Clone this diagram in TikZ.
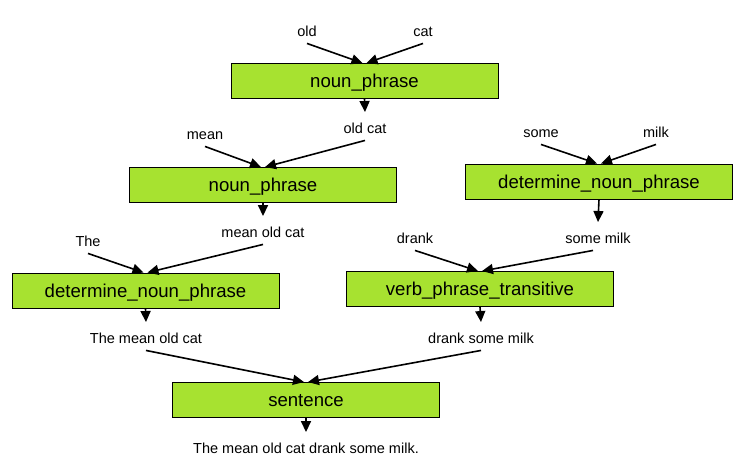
\documentclass[tikz,border=0pt]{standalone}
\usepackage{fontspec}
\setmainfont{Liberation Sans}
\usetikzlibrary{arrows.meta}
\definecolor{boxgreen}{RGB}{167,226,48}
\begin{document}
\begin{tikzpicture}[x=1pt,y=-1pt,
  box/.style={draw=black, line width=0.9pt, fill=boxgreen, minimum width=267pt, minimum height=35pt, inner sep=0pt, text height=13.5pt, text depth=0pt, font=\fontsize{18.6}{21}\selectfont},
  lbl/.style={inner sep=0pt, text height=10.5pt, text depth=0pt, font=\fontsize{14.5}{17}\selectfont},
  arr/.style={-{Triangle[length=11pt,width=10pt]}, line width=1.6pt}]
\useasboundingbox (0,0) rectangle (750,465);

% boxes
\node[box] (b1) at (364.5,81) {noun\_phrase};
\node[box] (b2) at (263,185) {noun\_phrase};
\node[box] (b3) at (599,181.5) {determine\_noun\_phrase};
\node[box] (b4) at (145.5,290.5) {determine\_noun\_phrase};
\node[box] (b5) at (480,289) {verb\_phrase\_transitive};
\node[box] (b6) at (306,400) {sentence};

% labels
\node[lbl] (old) at (307,31) {old};
\node[lbl] (cat) at (423,31) {cat};
\node[lbl] (oc) at (365,128) {old cat};
\node[lbl] (mean) at (205,134) {mean};
\node[lbl] (moc) at (263,232) {mean old cat};
\node[lbl] (the) at (88,241) {The};
\node[lbl] (some) at (541,132) {some};
\node[lbl] (milk) at (656,132) {milk};
\node[lbl] (sm) at (598,238) {some milk};
\node[lbl] (drank) at (415,238) {drank};
\node[lbl] (tmoc) at (146,338) {The mean old cat};
\node[lbl] (dsm) at (481,338) {drank some milk};
\node[lbl] (final) at (306,448) {The mean old cat drank some milk.};

% connectors
\draw[arr] ([yshift=-7pt]old.south) -- ([xshift=-2pt]b1.north);
\draw[arr] ([yshift=-7pt]cat.south) -- ([xshift=2pt]b1.north);
\draw[arr] (b1.south) -- ([yshift=10.5pt]oc.north);

\draw[arr] ([yshift=-7pt]mean.south) -- ([xshift=-2pt]b2.north);
\draw[arr] ([yshift=-7pt]oc.south) -- ([xshift=2pt]b2.north);
\draw[arr] (b2.south) -- ([yshift=10.5pt]moc.north);

\draw[arr] ([yshift=-7pt]some.south) -- ([xshift=-2pt]b3.north);
\draw[arr] ([yshift=-7pt]milk.south) -- ([xshift=2pt]b3.north);
\draw[arr] (b3.south) -- ([yshift=10.5pt]sm.north);

\draw[arr] ([yshift=-7pt]the.south) -- ([xshift=-2pt]b4.north);
\draw[arr] ([yshift=-7pt]moc.south) -- ([xshift=2pt]b4.north);
\draw[arr] (b4.south) -- ([yshift=10.5pt]tmoc.north);

\draw[arr] ([yshift=-7pt]drank.south) -- ([xshift=-2pt]b5.north);
\draw[arr] ([xshift=-5pt,yshift=-7pt]sm.south) -- ([xshift=2pt]b5.north);
\draw[arr] (b5.south) -- ([yshift=10.5pt]dsm.north);

\draw[arr] ([yshift=-7pt]tmoc.south) -- ([xshift=-2pt]b6.north);
\draw[arr] ([yshift=-7pt]dsm.south) -- ([xshift=2pt]b6.north);
\draw[arr] (b6.south) -- ([yshift=10.5pt]final.north);
\end{tikzpicture}
\end{document}
